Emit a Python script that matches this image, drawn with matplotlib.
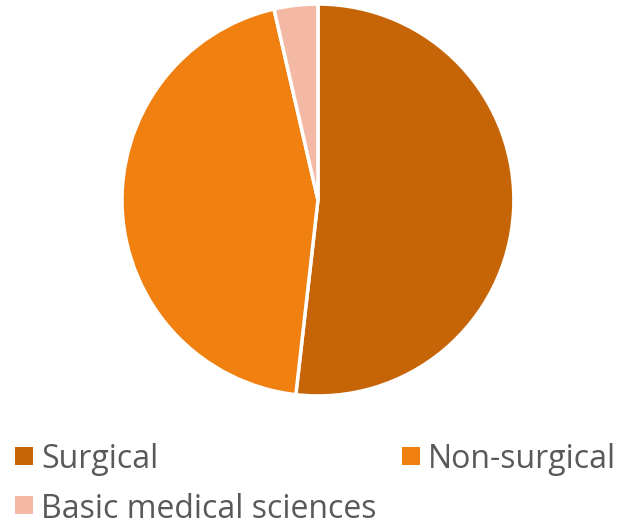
import matplotlib.pyplot as plt
from matplotlib.patches import Rectangle

categorias = ['Surgical', 'Non-surgical', 'Basic medical sciences']
valores = [51.8, 44.6, 3.6]
colores = ['#C66508', '#F08010', '#F4B9A5']

plt.rcParams['font.family'] = ['Open Sans', 'DejaVu Sans']

W, H = 627, 522
fig = plt.figure(figsize=(W / 100, H / 100), dpi=100)
ax = fig.add_axes([0.1946, 0.2414, 0.625, 0.751])
ax.pie(valores, colors=colores, startangle=90, counterclock=False,
       wedgeprops={'edgecolor': 'white', 'linewidth': 2.5})
ax.set_xlim(-1, 1)
ax.set_ylim(-1, 1)
ax.set_aspect('equal')

# leyenda a mano: (x del cuadro, y del centro) en pixeles desde arriba
posiciones = [(15, 456), (402, 456), (15, 505)]
for (x, y), nombre, color in zip(posiciones, categorias, colores):
    fig.add_artist(Rectangle((x / W, 1 - (y + 9) / H), 18 / W, 18 / H,
                             transform=fig.transFigure, facecolor=color))
    fig.text((x + 26) / W, 1 - y / H, nombre, fontsize=23, color='#595959',
             va='center_baseline', ha='left')

fig.savefig('out.png', dpi=100)
